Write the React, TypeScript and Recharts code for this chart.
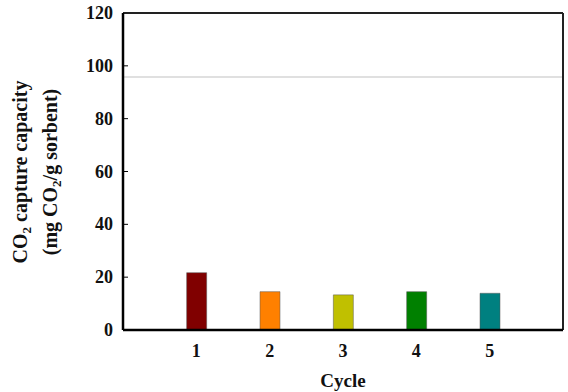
import React from "react";
import { BarChart, Bar, XAxis, YAxis, Cell, ReferenceLine } from "recharts";

const cycles = [1, 2, 3, 4, 5];
const capacity = [21.7, 14.5, 13.3, 14.5, 13.9];
const barColors = ["#800000", "#ff8000", "#c0c000", "#008000", "#008080"];
const yTicks = [0, 20, 40, 60, 80, 100, 120];
const xTicks = [1, 2, 3, 4, 5];
const referenceValue = 95.8;

const data = cycles.map((c, i) => ({ cycle: c, value: capacity[i] }));

const FONT = "'Liberation Serif', 'Times New Roman', serif";

const YTick = (props: any) => {
  const { x, y, payload } = props;
  return (
    <g>
      <text x={x} y={y} dy={6} textAnchor="end" fontFamily={FONT} fontWeight="bold" fontSize={18} fill="#111">
        {payload.value}
      </text>
      {payload.value !== 0 && payload.value !== 120 ? (
        <line x1={x + 10} x2={x + 15} y1={y} y2={y} stroke="#000" strokeWidth={1} />
      ) : null}
    </g>
  );
};

const XTick = (props: any) => {
  const { x, y, payload } = props;
  return (
    <text x={x} y={y} dy={15} textAnchor="middle" fontFamily={FONT} fontWeight="bold" fontSize={18} fill="#111">
      {payload.value}
    </text>
  );
};

const YTitle = () => (
  <text transform="translate(0,172) rotate(-90)" textAnchor="middle" fontFamily={FONT} fontWeight="bold" fontSize={20} fill="#111">
    <tspan x={0} y={27}>CO<tspan fontSize={13} dy={4}>2</tspan><tspan dy={-4}> capture capacity</tspan></tspan>
    <tspan x={0} y={57}>(mg CO<tspan fontSize={13} dy={4}>2</tspan><tspan dy={-4}>/g sorbent)</tspan></tspan>
  </text>
);

export default function App() {
  return (
    <div style={{ position: "absolute", left: 0, top: 0, width: 568, height: 392, background: "#fff" }}>
      <BarChart width={568} height={392} data={data} margin={{ top: 13, right: 5, bottom: 32, left: 0 }}>
        <XAxis
          dataKey="cycle"
          type="number"
          domain={[0, 6]}
          ticks={xTicks}
          height={30}
          tick={<XTick />}
          tickLine={false}
          axisLine={{ stroke: "#000", strokeWidth: 2.5 }}
          tickSize={0}
          tickMargin={12}
          label={{ value: "Cycle", position: "insideBottom", offset: -27, fontFamily: FONT, fontWeight: "bold", fontSize: 19, fill: "#111" }}
        />
        <YAxis
          type="number"
          domain={[0, 120]}
          ticks={yTicks}
          width={123}
          tick={<YTick />}
          tickLine={false}
          tickSize={0}
          tickMargin={10}
          axisLine={{ stroke: "#000", strokeWidth: 2.5 }}
          label={<YTitle />}
        />
        <ReferenceLine y={referenceValue} stroke="#d6d6d6" strokeWidth={1.5} />
        <ReferenceLine y={120} stroke="#222" strokeWidth={2} />
        <ReferenceLine x={6} stroke="#222" strokeWidth={2} />
        <Bar dataKey="value" barSize={20} isAnimationActive={false} stroke="#555" strokeWidth={0.5}>
          {data.map((d, i) => (
            <Cell key={d.cycle} fill={barColors[i]} />
          ))}
        </Bar>
      </BarChart>
    </div>
  );
}
